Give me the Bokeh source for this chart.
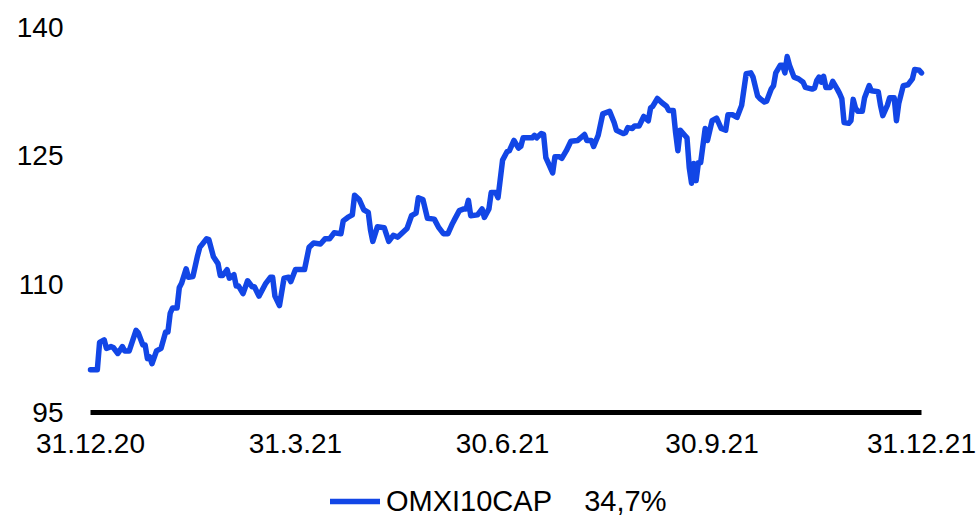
import datetime as dt
from bokeh.plotting import figure
from bokeh.models import Range1d, Legend, LegendItem
from bokeh.embed import file_html
from bokeh.resources import INLINE

# ---- data ----
start_date = "2020-12-31"
end_date = "2021-12-31"
day_offsets = [0, 3, 4, 6, 7, 9, 10, 12, 14, 15, 17, 20, 21, 23, 24, 25, 26, 27, 29, 31,
               33, 34, 35, 36, 38, 39, 40, 42, 43, 45, 47, 48, 51, 52, 54, 56, 57, 58, 60, 61,
               63, 64, 65, 67, 69, 71, 72, 74, 77, 79, 80, 81, 83, 85, 87, 88, 90, 92, 94, 96,
               98, 101, 103, 105, 107, 110, 111, 113, 115, 116, 118, 120, 122, 123, 124, 126, 129, 131, 133, 135,
               137, 139, 141, 143, 144, 146, 148, 151, 153, 155, 157, 159, 160, 162, 164, 165, 166, 167, 170, 172,
               173, 175, 176, 178, 179, 181, 183, 184, 186, 188, 189, 190, 194, 195, 196, 198, 199, 200, 201, 203,
               204, 206, 207, 209, 211, 214, 217, 218, 220, 221, 223, 225, 228, 230, 231, 234, 235, 236, 238, 239,
               241, 243, 245, 246, 247, 249, 251, 253, 254, 256, 257, 258, 259, 261, 262, 263, 264, 265, 266, 267,
               268, 270, 271, 273, 275, 277, 279, 280, 282, 284, 286, 288, 290, 291, 293, 294, 296, 297, 299, 300,
               301, 303, 304, 305, 306, 307, 309, 311, 313, 314, 317, 318, 319, 320, 321, 322, 323, 325, 326, 328,
               329, 330, 331, 333, 334, 335, 336, 337, 339, 340, 342, 343, 346, 347, 348, 350, 351, 353, 354, 355,
               357, 359, 361, 362, 364, 365]
index_values = [100.0, 100.0, 103.2, 103.5, 102.5, 102.7, 102.6, 101.9, 102.7, 102.2, 102.2, 104.6, 104.3, 102.9, 102.9, 101.3, 101.5, 100.7, 102.2, 102.5,
                104.4, 104.4, 106.6, 107.2, 107.2, 109.6, 110.1, 111.8, 110.8, 110.9, 113.3, 114.3, 115.3, 115.2, 113.2, 112.4, 111.0, 111.0, 111.7, 110.7,
                111.1, 109.8, 109.8, 108.9, 110.4, 109.7, 109.7, 108.6, 110.1, 110.8, 110.8, 108.6, 107.5, 110.7, 110.8, 110.3, 111.7, 111.7, 111.7, 114.3,
                114.8, 114.7, 115.3, 115.3, 116.0, 115.9, 117.4, 117.8, 118.1, 120.4, 119.9, 118.7, 118.4, 116.3, 115.0, 116.7, 116.6, 115.0, 115.7, 115.5,
                116.0, 116.5, 118.0, 118.3, 120.1, 119.9, 117.7, 117.6, 116.6, 115.9, 115.9, 117.1, 117.6, 118.6, 118.8, 118.8, 119.8, 118.0, 118.1, 118.8,
                117.8, 118.8, 120.7, 120.7, 120.1, 124.5, 125.5, 125.6, 126.8, 125.9, 126.1, 127.1, 127.1, 127.4, 127.1, 127.6, 127.5, 124.8, 124.2, 123.0,
                124.9, 124.9, 124.7, 125.6, 126.7, 126.8, 127.5, 126.8, 126.8, 126.1, 127.4, 129.9, 130.2, 128.9, 128.0, 127.6, 127.7, 128.3, 128.2, 128.5,
                128.5, 129.6, 129.1, 130.6, 130.8, 131.7, 131.2, 130.8, 130.3, 130.3, 127.7, 125.6, 128.0, 127.4, 127.1, 123.6, 121.8, 124.1, 122.1, 124.2,
                124.2, 128.2, 126.8, 129.1, 129.4, 128.2, 128.0, 129.8, 129.8, 129.5, 130.9, 134.6, 134.7, 134.2, 132.0, 131.7, 131.3, 131.4, 132.8, 133.2,
                134.7, 135.6, 135.6, 134.7, 136.6, 135.6, 134.2, 134.0, 133.6, 133.0, 132.8, 132.9, 133.8, 134.2, 133.6, 134.3, 133.0, 133.0, 133.7, 132.8,
                132.3, 131.7, 128.9, 128.8, 129.1, 131.6, 130.6, 130.2, 130.2, 131.8, 133.2, 132.6, 132.5, 130.9, 129.7, 130.9, 131.8, 131.8, 129.1, 131.1,
                133.2, 133.3, 134.0, 135.1, 135.0, 134.7]
series_name = "OMXI10CAP"
series_change = "34,7%"
x_tick_dates = ["2020-12-31", "2021-03-31", "2021-06-30", "2021-09-30", "2021-12-31"]
x_tick_labels = ["31.12.20", "31.3.21", "30.6.21", "30.9.21", "31.12.21"]
y_ticks = [95, 110, 125, 140]
y_tick_labels = ["95", "110", "125", "140"]
y_min, y_max = 95, 140

# ---- layout (pixels) ----
W, H = 978, 518
PLOT_L, PLOT_R = 90, 921      # x pixel of start_date / end_date
PLOT_T, PLOT_B = 27, 412      # y pixel of y_max / y_min

def parse(s):
    return dt.datetime.strptime(s, "%Y-%m-%d")

t0, t1 = parse(start_date), parse(end_date)
dates = [t0 + dt.timedelta(days=d) for d in day_offsets]

# extend ranges so the whole canvas is the frame (labels and legend live inside it)
sec_per_px = (t1 - t0).total_seconds() / (PLOT_R - PLOT_L)
x_start = t0 - dt.timedelta(seconds=sec_per_px * PLOT_L)
x_end = t1 + dt.timedelta(seconds=sec_per_px * (W - PLOT_R))
val_per_px = (y_max - y_min) / (PLOT_B - PLOT_T)
y_start = y_min - val_per_px * (H - PLOT_B)
y_end = y_max + val_per_px * PLOT_T

FONT = "Liberation Sans"
BLUE = "#1246E6"

p = figure(width=W, height=H, x_axis_type="datetime",
           x_range=Range1d(x_start, x_end), y_range=Range1d(y_start, y_end),
           output_backend="svg", toolbar_location=None,
           min_border=0, min_border_left=0, min_border_right=0,
           min_border_top=0, min_border_bottom=0)
p.xaxis.visible = False
p.yaxis.visible = False
p.xgrid.visible = False
p.ygrid.visible = False
p.outline_line_color = None
p.background_fill_color = "white"
p.border_fill_color = "white"

# baseline (x-axis line at y_min)
p.segment(x0=[t0], y0=[y_min], x1=[t1], y1=[y_min], line_color="black", line_width=5, line_cap="butt")

# y tick labels
p.text(x=[t0] * len(y_ticks), y=y_ticks, text=y_tick_labels, x_offset=-27,
       text_align="right", text_baseline="middle", text_font={"value": FONT},
       text_font_size="28px", text_color="black")

# x tick labels
p.text(x=[parse(s) for s in x_tick_dates], y=[y_min] * len(x_tick_dates), text=x_tick_labels,
       y_offset=31, text_align="center", text_baseline="middle", text_font={"value": FONT},
       text_font_size="28px", text_color="black")

r = p.line(dates, index_values, line_color=BLUE, line_width=5.5, line_join="round", line_cap="round")

label = series_name + "\u00a0\u00a0\u00a0 " + series_change
legend = Legend(items=[LegendItem(label=label, renderers=[r])],
                location=(330, 0), orientation="horizontal",
                glyph_width=50, glyph_height=34, label_height=34, label_standoff=6,
                padding=0, margin=0, border_line_color=None, background_fill_alpha=0,
                label_text_font=FONT, label_text_font_size="29px", label_text_color="black")
p.add_layout(legend, "center")

open("out.html", "w").write(file_html(p, INLINE))
